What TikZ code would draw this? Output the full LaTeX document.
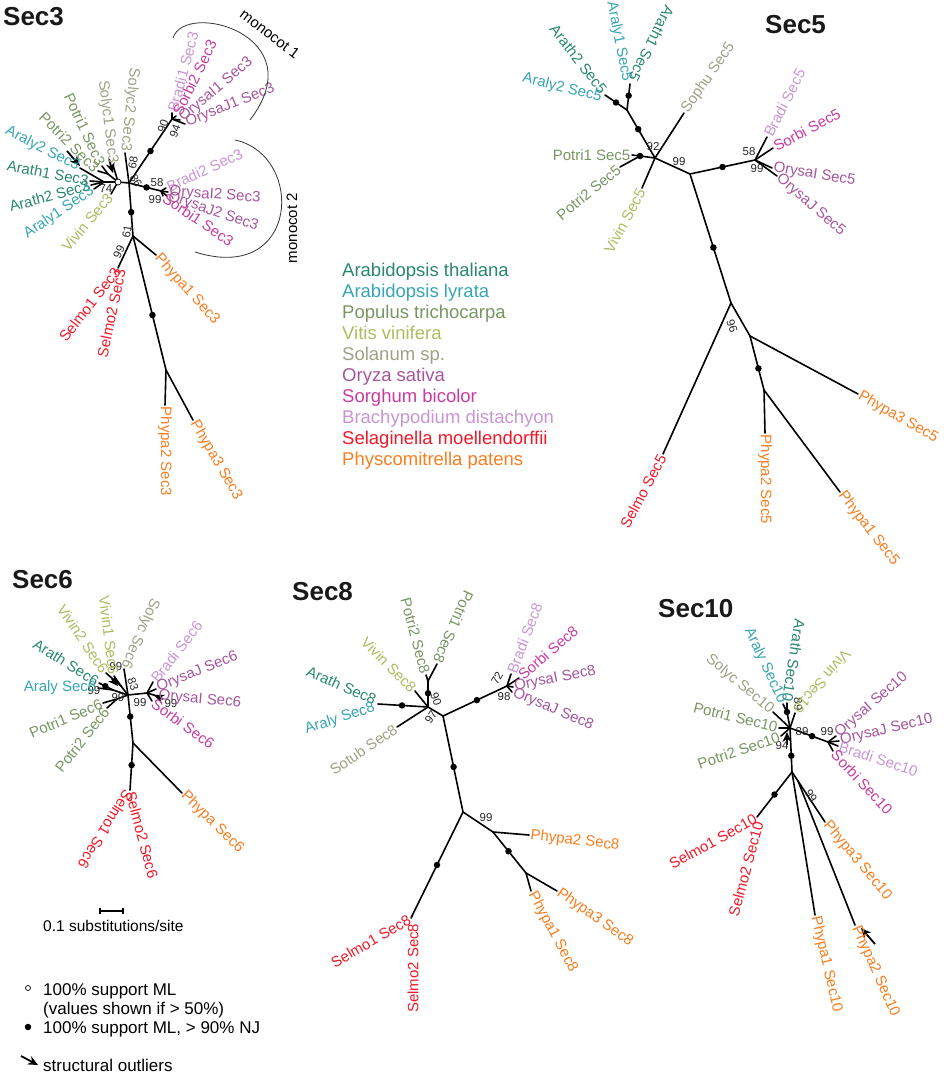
\documentclass[tikz,border=0pt]{standalone}
\usepackage{fontspec}
\setmainfont{Liberation Sans}
\usetikzlibrary{arrows.meta,calc}
\definecolor{cArath}{RGB}{40,135,110}
\definecolor{cAraly}{RGB}{55,165,180}
\definecolor{cPotri}{RGB}{120,150,100}
\definecolor{cVivin}{RGB}{170,190,95}
\definecolor{cSolyc}{RGB}{160,160,135}
\definecolor{cOrysa}{RGB}{165,85,155}
\definecolor{cSorbi}{RGB}{200,60,160}
\definecolor{cBradi}{RGB}{200,150,210}
\definecolor{cSelmo}{RGB}{240,25,40}
\definecolor{cPhypa}{RGB}{250,125,30}
\newcommand\tipsize{\fontsize{15}{17}\selectfont}
\newcommand\bssize{\fontsize{11.5}{13}\selectfont}
\newcommand\ttlsize{\fontsize{26}{30}\selectfont}
\newcommand\spsize{\fontsize{18.5}{21}\selectfont}
\newcommand\lgsize{\fontsize{17}{20}\selectfont}
\tikzset{
  br/.style={line width=1.6pt, line cap=round},
  dotn/.style={circle, fill=black, inner sep=0pt, minimum size=6.5pt},
  opendot/.style={circle, draw=black, fill=white, line width=0.7pt, inner sep=0pt, minimum size=6pt},
  tipE/.style={anchor=east, inner sep=1.5pt, font=\tipsize},
  tipW/.style={anchor=west, inner sep=1.5pt, font=\tipsize},
  bs/.style={font=\bssize, inner sep=0pt, text=black!85},
  outl/.style={-{Stealth[length=10pt,width=9pt]}, line width=1.8pt},
  ttl/.style={anchor=base west, inner sep=0pt, font=\ttlsize\bfseries, text=black!90},
  splab/.style={anchor=base west, inner sep=0pt, font=\spsize},
  lgtxt/.style={anchor=base west, inner sep=0pt, font=\lgsize},
  clade/.style={line width=0.8pt, black!80}
}
\begin{document}
\begin{tikzpicture}[x=1pt,y=-1pt]
\useasboundingbox (0,0) rectangle (945,1076);

% ---------- Sec3 ----------
\node[ttl] (t3) at (3,25) {Sec3};
\coordinate (s3hub) at (118,182);
\coordinate (s3ar) at (104,182);
\coordinate (s3po) at (108,174);
\coordinate (s3r) at (129,183);
\coordinate (s3m1) at (172,119);
\coordinate (s3m2) at (161,191);
\coordinate (s3t) at (133,236);
\coordinate (s3se) at (118,268);
\coordinate (s3ph) at (166,370);
\coordinate (s3araly2) at (80,168);
\coordinate (s3arath1) at (90,181);
\coordinate (s3arath2) at (91,185);
\coordinate (s3araly1) at (94,189);
\coordinate (s3vivin) at (111,194);
\coordinate (s3potri2) at (98,171);
\coordinate (s3potri1) at (102,166);
\coordinate (s3solyc1) at (113,165);
\coordinate (s3solyc2) at (125,153);
\coordinate (s3bradi1) at (172,113);
\coordinate (s3sorbi2) at (176,116);
\coordinate (s3orysaI1) at (180,120);
\coordinate (s3orysaJ1) at (185,124);
\coordinate (s3bradi2) at (166,188);
\coordinate (s3orysaI2) at (168,192);
\coordinate (s3orysaJ2) at (167,196);
\coordinate (s3sorbi1) at (163,196);
\coordinate (s3phypa1) at (156,255);
\coordinate (s3phypa2) at (165,405);
\coordinate (s3phypa3) at (193,420);
\draw[br] (s3hub) -- (s3ar);
\foreach \tp in {araly2,arath1,arath2,araly1} \draw[br] (s3ar) -- (s3\tp);
\draw[br] (s3hub) -- (s3po);
\foreach \tp in {potri2,potri1} \draw[br] (s3po) -- (s3\tp);
\draw[br] (s3hub) -- (s3solyc1);
\draw[br] (s3hub) -- (s3vivin);
\draw[br] (s3hub) -- (s3r);
\draw[br] (s3r) -- (s3solyc2);
\draw[br] (s3r) -- (s3m1);
\foreach \tp in {bradi1,sorbi2,orysaI1,orysaJ1} \draw[br] (s3m1) -- (s3\tp);
\draw[br] (s3r) -- (s3m2);
\foreach \tp in {bradi2,orysaI2,orysaJ2,sorbi1} \draw[br] (s3m2) -- (s3\tp);
\draw[br] (s3r) -- (s3t);
\draw[br] (s3t) -- (s3se);
\draw[br] (s3t) -- (s3phypa1);
\draw[br] (s3t) -- (s3ph);
\draw[br] (s3ph) -- (s3phypa2);
\draw[br] (s3ph) -- (s3phypa3);
\node[opendot] (s3o) at (s3hub) {};
\node[dotn] (s3d1) at ($(s3r)!.5!(s3m1)$) {};
\node[dotn] (s3d2) at ($(s3r)!.55!(s3m2)$) {};
\node[dotn] (s3d3) at ($(s3r)!.55!(s3t)$) {};
\node[dotn] (s3d4) at ($(s3t)!.59!(s3ph)$) {};
\draw[outl] (67,151) -- (80,166);
\draw[outl] (109,159) -- (113,173);
\node[bs,rotate=70] (b3a) at (163,126) {90};
\node[bs,rotate=70] (b3b) at (175,131) {94};
\node[bs] (b3c) at (106,189) {74};
\node[bs,rotate=80] (b3d) at (133,163) {68};
\node[bs,rotate=-60] (b3e) at (136,181) {86};
\node[bs] (b3f) at (157,183) {58};
\node[bs] (b3g) at (155,200) {99};
\node[bs,rotate=80] (b3h) at (127,232) {61};
\node[bs,rotate=65] (b3i) at (119,252) {99};
\node[tipE,cAraly,rotate=-27] (l3a) at (s3araly2) {Araly2 Sec3};
\node[tipE,cArath,rotate=-11] (l3b) at (s3arath1) {Arath1 Sec3};
\node[tipE,cArath,rotate=15] (l3c) at (s3arath2) {Arath2 Sec3};
\node[tipE,cAraly,rotate=34] (l3d) at (s3araly1) {Araly1 Sec3};
\node[tipE,cVivin,rotate=50] (l3e) at (s3vivin) {Vivin Sec3};
\node[tipE,cPotri,rotate=-45] (l3f) at (s3potri2) {Potri2 Sec3};
\node[tipE,cPotri,rotate=-65] (l3g) at (s3potri1) {Potri1 Sec3};
\node[tipE,cSolyc,rotate=-83] (l3h) at (s3solyc1) {Solyc1 Sec3};
\node[tipE,cSolyc,rotate=-96] (l3i) at (s3solyc2) {Solyc2 Sec3};
\node[tipW,cBradi,rotate=75] (l3j) at (s3bradi1) {Bradi1 Sec3};
\node[tipW,cSorbi,rotate=64] (l3k) at (s3sorbi2) {Sorbi2 Sec3};
\node[tipW,cOrysa,rotate=40] (l3l) at (s3orysaI1) {OrysaI1 Sec3};
\node[tipW,cOrysa,rotate=22] (l3m) at (s3orysaJ1) {OrysaJ1 Sec3};
\node[tipW,cBradi,rotate=25] (l3n) at (s3bradi2) {Bradi2 Sec3};
\node[tipW,cOrysa,rotate=-4] (l3o) at (s3orysaI2) {OrysaI2 Sec3};
\node[tipW,cOrysa,rotate=-19] (l3p) at (s3orysaJ2) {OrysaJ2 Sec3};
\node[tipW,cSorbi,rotate=-34] (l3q) at (s3sorbi1) {Sorbi1 Sec3};
\node[tipW,cPhypa,rotate=-48] (l3r) at (s3phypa1) {Phypa1 Sec3};
\node[tipW,cPhypa,rotate=-90] (l3s) at (s3phypa2) {Phypa2 Sec3};
\node[tipW,cPhypa,rotate=-60] (l3t) at (s3phypa3) {Phypa3 Sec3};
\node[tipE,cSelmo,rotate=52] (l3u) at (s3se) {Selmo1 Sec3};
\node[tipE,cSelmo,rotate=78] (l3v) at ([xshift=3pt]s3se) {Selmo2 Sec3};
\draw[clade] (173,38) .. controls (185,0) and (315,35) .. (250,120);
\node[rotate=-37,font=\tipsize,inner sep=0] (mc1) at (270,34) {monocot 1};
\draw[clade] (235,140) .. controls (305,155) and (300,285) .. (195,252);
\node[rotate=90,font=\tipsize,inner sep=0] (mc2) at (292,228) {monocot 2};

% ---------- species legend ----------
\node[splab,cArath] (sp1) at (342,276) {Arabidopsis thaliana};
\node[splab,cAraly] (sp2) at (342,297) {Arabidopsis lyrata};
\node[splab,cPotri] (sp3) at (342,318) {Populus trichocarpa};
\node[splab,cVivin] (sp4) at (342,339) {Vitis vinifera};
\node[splab,cSolyc] (sp5) at (342,360) {Solanum sp.};
\node[splab,cOrysa] (sp6) at (342,381) {Oryza sativa};
\node[splab,cSorbi] (sp7) at (342,402) {Sorghum bicolor};
\node[splab,cBradi] (sp8) at (342,423) {Brachypodium distachyon};
\node[splab,cSelmo] (sp9) at (342,444) {Selaginella moellendorffii};
\node[splab,cPhypa] (sp10) at (342,465) {Physcomitrella patens};

% ---------- Sec5 ----------
\node[ttl] (t5) at (765,33) {Sec5};
\coordinate (s5h) at (655,158);
\coordinate (s5r) at (690,174);
\coordinate (s5m) at (755,160);
\coordinate (s5b) at (731,303);
\coordinate (s5p) at (750,336);
\coordinate (s5q) at (764,390);
\coordinate (s5a) at (627,110);
\coordinate (s5x) at (605,95);
\coordinate (s5y) at (630,84);
\coordinate (s5po) at (640,156);
\coordinate (s5sophu) at (684,113);
\coordinate (s5vivin) at (642,188);
\coordinate (s5potri1) at (632,155);
\coordinate (s5potri2) at (620,167);
\coordinate (s5bradi) at (767,137);
\coordinate (s5sorbi) at (773,148);
\coordinate (s5orysaI) at (772,168);
\coordinate (s5orysaJ) at (777,176);
\coordinate (s5selmo) at (663,454);
\coordinate (s5phypa1) at (840,492);
\coordinate (s5phypa2) at (765,433);
\coordinate (s5phypa3) at (858,394);
\draw[br] (s5h) -- (s5a);
\draw[br] (s5a) -- (s5x);
\draw[br] (s5a) -- (s5y);
\draw[br] (s5h) -- (s5sophu);
\draw[br] (s5h) -- (s5po);
\draw[br] (s5po) -- (s5potri1);
\draw[br] (s5po) -- (s5potri2);
\draw[br] (s5h) -- (s5vivin);
\draw[br] (s5h) -- (s5r);
\draw[br] (s5r) -- (s5m);
\foreach \tp in {bradi,sorbi,orysaI,orysaJ} \draw[br] (s5m) -- (s5\tp);
\draw[br] (s5r) -- (s5b);
\draw[br] (s5b) -- (s5selmo);
\draw[br] (s5b) -- (s5p);
\draw[br] (s5p) -- (s5phypa3);
\draw[br] (s5p) -- (s5q);
\draw[br] (s5q) -- (s5phypa2);
\draw[br] (s5q) -- (s5phypa1);
\node[dotn] (s5d1) at ($(s5h)!.6!(s5a)$) {};
\node[dotn] (s5d2) at ($(s5a)!.5!(s5x)$) {};
\node[dotn] (s5d3) at ($(s5a)!.55!(s5y)$) {};
\node[dotn] (s5d4) at (s5po) {};
\node[dotn] (s5d5) at ($(s5r)!.5!(s5m)$) {};
\node[dotn] (s5d6) at ($(s5r)!.57!(s5b)$) {};
\node[dotn] (s5d7) at ($(s5p)!.6!(s5q)$) {};
\node[bs] (b5a) at (653,147) {92};
\node[bs] (b5b) at (679,162) {99};
\node[bs] (b5c) at (749,152) {58};
\node[bs] (b5d) at (757,169) {99};
\node[bs,rotate=-70] (b5e) at (732,326) {96};
\node[tipE,cAraly,rotate=-14] (l5a) at (603,98) {Araly2 Sec5};
\node[tipE,cArath,rotate=-52] (l5b) at (605,93) {Arath2 Sec5};
\node[tipE,cAraly,rotate=-79] (l5c) at (627,83) {Araly1 Sec5};
\node[tipE,cArath,rotate=-117] (l5d) at (632,82) {Arath1 Sec5};
\node[tipW,cSolyc,rotate=55] (l5e) at (s5sophu) {Sophu Sec5};
\node[tipE,cPotri] (l5f) at (s5potri1) {Potri1 Sec5};
\node[tipE,cPotri,rotate=39] (l5g) at (s5potri2) {Potri2 Sec5};
\node[tipE,cVivin,rotate=62] (l5h) at (s5vivin) {Vivin Sec5};
\node[tipW,cBradi,rotate=63] (l5i) at (s5bradi) {Bradi Sec5};
\node[tipW,cSorbi,rotate=28] (l5j) at (s5sorbi) {Sorbi Sec5};
\node[tipW,cOrysa,rotate=-9] (l5k) at (s5orysaI) {OrysaI Sec5};
\node[tipW,cOrysa,rotate=-41] (l5l) at (s5orysaJ) {OrysaJ Sec5};
\node[tipE,cSelmo,rotate=62] (l5m) at (s5selmo) {Selmo Sec5};
\node[tipW,cPhypa,rotate=-90] (l5n) at (s5phypa2) {Phypa2 Sec5};
\node[tipW,cPhypa,rotate=-52] (l5o) at (s5phypa1) {Phypa1 Sec5};
\node[tipW,cPhypa,rotate=-30] (l5p) at (s5phypa3) {Phypa3 Sec5};

% ---------- Sec6 ----------
\node[ttl] (t6) at (12,588) {Sec6};
\coordinate (s6h) at (128,695);
\coordinate (s6t) at (133,743);
\coordinate (s6se) at (130,790);
\coordinate (s6m) at (147,693);
\coordinate (s6a) at (113,690);
\coordinate (s6v) at (121,686);
\coordinate (s6p) at (117,699);
\coordinate (s6phypa) at (182,793);
\coordinate (s6bradi) at (153,682);
\coordinate (s6orysaJ) at (156,689);
\coordinate (s6orysaI) at (157,696);
\coordinate (s6sorbi) at (152,701);
\coordinate (s6arath) at (99,683);
\coordinate (s6araly) at (98,688);
\coordinate (s6vivin2) at (106,673);
\coordinate (s6vivin1) at (114,676);
\coordinate (s6solyc) at (124,669);
\coordinate (s6potri1) at (103,703);
\coordinate (s6potri2) at (107,708);
\draw[br] (s6h) -- (s6t);
\draw[br] (s6t) -- (s6se);
\draw[br] (s6t) -- (s6phypa);
\draw[br] (s6h) -- (s6m);
\foreach \tp in {bradi,orysaJ,orysaI,sorbi} \draw[br] (s6m) -- (s6\tp);
\draw[br] (s6h) -- (s6a);
\draw[br] (s6a) -- (s6arath);
\draw[br] (s6a) -- (s6araly);
\draw[br] (s6h) -- (s6v);
\draw[br] (s6v) -- (s6vivin1);
\draw[br] (s6v) -- (s6vivin2);
\draw[br] (s6h) -- (s6solyc);
\draw[br] (s6h) -- (s6p);
\draw[br] (s6p) -- (s6potri1);
\draw[br] (s6p) -- (s6potri2);
\node[dotn] (s6d1) at ($(s6h)!.45!(s6t)$) {};
\node[dotn] (s6d2) at ($(s6t)!.47!(s6se)$) {};
\node[dotn] (s6d3) at ($(s6a)!.55!(s6arath)$) {};
\draw[outl] (163,699) -- (154,695);
\draw[outl] (112,679) -- (118,686);
\node[bs] (b6a) at (116,667) {99};
\node[bs,rotate=-70] (b6b) at (133,684) {83};
\node[bs] (b6c) at (94,691) {99};
\node[bs] (b6d) at (118,698) {99};
\node[bs] (b6e) at (140,703) {99};
\node[bs] (b6f) at (171,704) {99};
\node[tipE,cVivin,rotate=-56] (l6a) at (s6vivin2) {Vivin2 Sec6};
\node[tipE,cVivin,rotate=-83] (l6b) at (s6vivin1) {Vivin1 Sec6};
\node[tipE,cSolyc,rotate=-114] (l6c) at (s6solyc) {Solyc Sec6};
\node[tipE,cArath,rotate=-32] (l6d) at (s6arath) {Arath Sec6};
\node[tipE,cAraly] (l6e) at (s6araly) {Araly Sec6};
\node[tipE,cPotri,rotate=23] (l6f) at (s6potri1) {Potri1 Sec6};
\node[tipE,cPotri,rotate=52] (l6g) at (s6potri2) {Potri2 Sec6};
\node[tipW,cBradi,rotate=52] (l6h) at (s6bradi) {Bradi Sec6};
\node[tipW,cOrysa,rotate=22] (l6i) at (s6orysaJ) {OrysaJ Sec6};
\node[tipW,cOrysa,rotate=-5] (l6j) at (s6orysaI) {OrysaI Sec6};
\node[tipW,cSorbi,rotate=-36] (l6k) at (s6sorbi) {Sorbi Sec6};
\node[tipW,cPhypa,rotate=-44] (l6l) at (s6phypa) {Phypa Sec6};
\node[tipW,cSelmo,rotate=-122] (l6m) at (s6se) {Selmo1 Sec6};
\node[tipW,cSelmo,rotate=-75] (l6n) at (s6se) {Selmo2 Sec6};

% scale bar and legend
\coordinate (sb1) at (100,911);
\coordinate (sb2) at (123,911);
\draw[line width=1.2pt] (sb1) -- (sb2);
\draw[line width=1.2pt] ([yshift=3pt]sb1) -- ([yshift=-3pt]sb1);
\draw[line width=1.2pt] ([yshift=3pt]sb2) -- ([yshift=-3pt]sb2);
\node[anchor=base west, inner sep=0, font=\fontsize{15.5}{18}\selectfont] (sbt) at (43,931) {0.1 substitutions/site};
\node[opendot, minimum size=5pt] (lg1) at (28,988) {};
\node[lgtxt] (lg1t) at (43,995) {100\% support ML};
\node[lgtxt] (lg2t) at (43,1014) {(values shown if > 50\%)};
\node[dotn] (lg2) at (28,1027) {};
\node[lgtxt] (lg3t) at (43,1033) {100\% support ML, > 90\% NJ};
\coordinate (lga) at (21,1056);
\coordinate (lgb) at (38,1065);
\draw[outl] (lga) -- (lgb);
\node[lgtxt] (lg4t) at (43,1071) {structural outliers};

% ---------- Sec8 ----------
\node[ttl] (t8) at (292,600) {Sec8};
\coordinate (s8h) at (428,707);
\coordinate (s8j) at (443,716);
\coordinate (s8m) at (507,686);
\coordinate (s8b) at (463,812);
\coordinate (s8c) at (493,832);
\coordinate (s8d) at (526,873);
\coordinate (s8s) at (411,918);
\coordinate (s8ar) at (378,704);
\coordinate (s8sotub) at (397,727);
\coordinate (s8vivin) at (415,691);
\coordinate (s8po) at (428,681);
\coordinate (s8potri2) at (426,675);
\coordinate (s8potri1) at (437,664);
\coordinate (s8bradi) at (511,674);
\coordinate (s8sorbi) at (519,678);
\coordinate (s8orysaI) at (513,687);
\coordinate (s8orysaJ) at (512,692);
\coordinate (s8phypa2) at (529,835);
\coordinate (s8phypa1) at (531,891);
\coordinate (s8phypa3) at (557,891);
\draw[br] (s8h) -- (s8ar);
\draw[br] (s8h) -- (s8sotub);
\draw[br] (s8h) -- (s8vivin);
\draw[br] (s8h) -- (s8po);
\draw[br] (s8po) -- (s8potri2);
\draw[br] (s8po) -- (s8potri1);
\draw[br] (s8h) -- (s8j);
\draw[br] (s8j) -- (s8m);
\foreach \tp in {bradi,sorbi,orysaI,orysaJ} \draw[br] (s8m) -- (s8\tp);
\draw[br] (s8j) -- (s8b);
\draw[br] (s8b) -- (s8c);
\draw[br] (s8c) -- (s8phypa2);
\draw[br] (s8c) -- (s8d);
\draw[br] (s8d) -- (s8phypa1);
\draw[br] (s8d) -- (s8phypa3);
\draw[br] (s8b) -- (s8s);
\node[dotn] (s8d1) at ($(s8h)!.52!(s8ar)$) {};
\node[dotn] (s8d2) at ($(s8h)!.53!(s8po)$) {};
\node[dotn] (s8d3) at ($(s8j)!.53!(s8m)$) {};
\node[dotn] (s8d4) at ($(s8j)!.53!(s8b)$) {};
\node[dotn] (s8d5) at ($(s8c)!.47!(s8d)$) {};
\node[dotn] (s8d6) at ($(s8b)!.5!(s8s)$) {};
\node[bs,rotate=-70] (b8a) at (436,699) {90};
\node[bs,rotate=55] (b8b) at (431,717) {97};
\node[bs,rotate=60] (b8c) at (497,678) {72};
\node[bs] (b8d) at (504,697) {98};
\node[bs] (b8e) at (486,818) {99};
\node[tipE,cArath,rotate=-24] (l8a) at (377,701) {Arath Sec8};
\node[tipE,cAraly,rotate=18] (l8b) at (376,707) {Araly Sec8};
\node[tipE,cSolyc,rotate=34] (l8c) at (s8sotub) {Sotub Sec8};
\node[tipE,cVivin,rotate=-45] (l8d) at (s8vivin) {Vivin Sec8};
\node[tipE,cPotri,rotate=-75] (l8e) at (s8potri2) {Potri2 Sec8};
\node[tipE,cPotri,rotate=-114] (l8f) at (s8potri1) {Potri1 Sec8};
\node[tipW,cBradi,rotate=69] (l8g) at (s8bradi) {Bradi Sec8};
\node[tipW,cSorbi,rotate=41] (l8h) at (s8sorbi) {Sorbi Sec8};
\node[tipW,cOrysa,rotate=11] (l8i) at (s8orysaI) {OrysaI Sec8};
\node[tipW,cOrysa,rotate=-23] (l8j) at (s8orysaJ) {OrysaJ Sec8};
\node[tipW,cPhypa,rotate=-7] (l8k) at (s8phypa2) {Phypa2 Sec8};
\node[tipW,cPhypa,rotate=-62] (l8l) at (s8phypa1) {Phypa1 Sec8};
\node[tipW,cPhypa,rotate=-35] (l8m) at (s8phypa3) {Phypa3 Sec8};
\node[tipE,cSelmo,rotate=30] (l8n) at (s8s) {Selmo1 Sec8};
\node[tipE,cSelmo,rotate=90] (l8o) at (413,922) {Selmo2 Sec8};

% ---------- Sec10 ----------
\node[ttl] (t10) at (658,617) {Sec10};
\coordinate (s10h) at (790,728);
\coordinate (s10b) at (792,772);
\coordinate (s10m) at (828,742);
\coordinate (s10s) at (757,817);
\coordinate (s10p) at (798,781);
\coordinate (s10at) at (787,712);
\coordinate (s10arath) at (787,703);
\coordinate (s10araly) at (783,704);
\coordinate (s10vivin) at (795,713);
\coordinate (s10solyc) at (773,712);
\coordinate (s10potri1) at (779,728);
\coordinate (s10potri2) at (781,736);
\coordinate (s10orysaI) at (836,736);
\coordinate (s10orysaJ) at (839,741);
\coordinate (s10bradi) at (838,746);
\coordinate (s10sorbi) at (833,751);
\coordinate (s10phypa1) at (815,915);
\coordinate (s10phypa2) at (855,925);
\coordinate (s10phypa3) at (825,822);
\draw[br] (s10h) -- (s10at);
\draw[br] (s10at) -- (s10arath);
\draw[br] (s10at) -- (s10araly);
\draw[br] (s10h) -- (s10vivin);
\draw[br] (s10h) -- (s10solyc);
\draw[br] (s10h) -- (s10potri1);
\draw[br] (s10h) -- (s10potri2);
\draw[br] (s10h) -- (s10m);
\foreach \tp in {orysaI,orysaJ,bradi,sorbi} \draw[br] (s10m) -- (s10\tp);
\draw[br] (s10h) -- (s10b);
\draw[br] (s10b) -- (s10s);
\draw[br] (s10b) -- (s10phypa1);
\draw[br] (s10b) -- (s10p);
\draw[br] (s10p) -- (s10phypa3);
\draw[br] (s10p) -- (s10phypa2);
\node[dotn] (s10d1) at (s10at) {};
\node[dotn] (s10d2) at ($(s10h)!.58!(s10m)$) {};
\node[dotn] (s10d3) at ($(s10h)!.63!(s10b)$) {};
\node[dotn] (s10d4) at ($(s10b)!.5!(s10s)$) {};
\draw[outl] (787,745) -- (787,732);
\draw[outl] (875,944) -- (861,928);
\node[bs,rotate=-90] (b10a) at (798,704) {89};
\node[bs] (b10b) at (802,732) {89};
\node[bs] (b10c) at (782,746) {94};
\node[bs] (b10d) at (827,732) {99};
\node[bs,rotate=-60] (b10e) at (811,796) {99};
\node[tipE,cArath,rotate=-99] (l10a) at (s10arath) {Arath Sec10};
\node[tipE,cAraly,rotate=-65] (l10b) at (s10araly) {Araly Sec10};
\node[tipE,cVivin,rotate=-131] (l10c) at (s10vivin) {Vivin Sec10};
\node[tipE,cSolyc,rotate=-40] (l10d) at (s10solyc) {Solyc Sec10};
\node[tipE,cPotri,rotate=-14] (l10e) at (s10potri1) {Potri1 Sec10};
\node[tipE,cPotri,rotate=19] (l10f) at (s10potri2) {Potri2 Sec10};
\node[tipW,cOrysa,rotate=41] (l10g) at (s10orysaI) {OrysaI Sec10};
\node[tipW,cOrysa,rotate=13] (l10h) at (s10orysaJ) {OrysaJ Sec10};
\node[tipW,cBradi,rotate=-18] (l10i) at (s10bradi) {Bradi Sec10};
\node[tipW,cSorbi,rotate=-47] (l10j) at (s10sorbi) {Sorbi Sec10};
\node[tipW,cPhypa,rotate=-50] (l10k) at (s10phypa3) {Phypa3 Sec10};
\node[tipW,cPhypa,rotate=-77] (l10l) at (s10phypa1) {Phypa1 Sec10};
\node[tipW,cPhypa,rotate=-66] (l10m) at (s10phypa2) {Phypa2 Sec10};
\node[tipE,cSelmo,rotate=29] (l10n) at (s10s) {Selmo1 Sec10};
\node[tipE,cSelmo,rotate=75] (l10o) at (759,820) {Selmo2 Sec10};
\end{tikzpicture}
\end{document}
